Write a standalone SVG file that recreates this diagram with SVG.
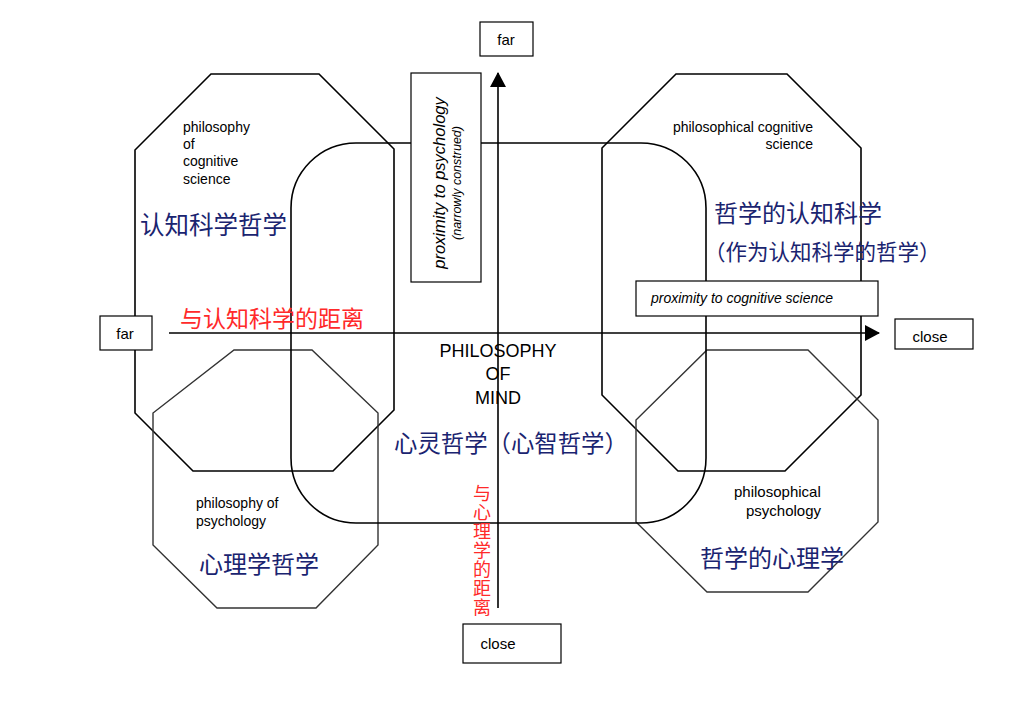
<svg xmlns="http://www.w3.org/2000/svg" width="1027" height="718" viewBox="0 0 1027 718">
<style>
.s{fill:none;stroke:#000;stroke-width:1.6}
.g{fill:none;stroke:#333;stroke-width:1.4}
.b{fill:#fff;stroke:#000;stroke-width:1.2}
.t{font-family:"Liberation Sans",Arial,sans-serif;fill:#000}
.zh{font-family:"Noto Sans CJK SC",sans-serif;fill:#1a2470}
.r{font-family:"Noto Sans CJK SC",sans-serif;fill:#ff2a2a}
</style>
<defs><marker id="ah" markerWidth="16" markerHeight="16" refX="14" refY="8" orient="auto" markerUnits="userSpaceOnUse"><path d="M0,0 L15,8 L0,16 Z" fill="#000"/></marker></defs>
<rect width="1027" height="718" fill="#fff"/>
<g id="connectors">
<line x1="169" y1="333" x2="879" y2="333" stroke="#000" stroke-width="1.6" marker-end="url(#ah)"/>
<line x1="498" y1="608" x2="498" y2="73" stroke="#000" stroke-width="1.6" marker-end="url(#ah)"/>
</g>
<g id="pcs">
<polygon class="s" points="211,74 319,74 394,149 394,410 333,471 193,471 135,413 135,150"/>
<g class="t" font-size="14"><text x="183" y="132">philosophy</text><text x="183" y="149">of</text><text x="183" y="166">cognitive</text><text x="183" y="184">science</text></g>
<text class="zh" x="140" y="234" font-size="24.5">认知科学哲学</text>
</g>
<g id="pcogs">
<polygon class="s" points="676,74 787,74 861,148 861,395 785,471 678,471 602,395 602,148"/>
<g class="t" font-size="14" text-anchor="end"><text x="813" y="132">philosophical cognitive</text><text x="813" y="149">science</text></g>
<text class="zh" x="714" y="222" font-size="24">哲学的认知科学</text>
<text class="zh" x="704" y="260" font-size="21.5">（作为认知科学的哲学）</text>
</g>
<g id="pop">
<polygon class="g" points="234,350 312,350 378,413 378,545 316,608 217,608 153,545 153,413"/>
<g class="t" font-size="14"><text x="196" y="508">philosophy of</text><text x="196" y="526">psychology</text></g>
<text class="zh" x="199" y="573" font-size="24">心理学哲学</text>
</g>
<g id="pp">
<polygon class="g" points="707,350 808,350 878,420 878,522 808,592 707,592 636,522 636,420"/>
<g class="t" font-size="15"><text x="734" y="497">philosophical</text><text x="746" y="516">psychology</text></g>
<text class="zh" x="700" y="567" font-size="24">哲学的心理学</text>
</g>
<g id="pom">
<rect class="s" x="291" y="143" width="415" height="380" rx="65"/>
<g class="t" font-size="18" text-anchor="middle"><text x="498" y="357">PHILOSOPHY</text><text x="498" y="380">OF</text><text x="498" y="404">MIND</text></g>
<text class="zh" x="394" y="452" font-size="23.4">心灵哲学（心智哲学）</text>
</g>
<g id="labels">
<rect class="b" x="411" y="73" width="70" height="209"/>
<text class="t" transform="translate(445,183) rotate(-90)" text-anchor="middle" font-size="16.5" font-style="italic">proximity to psychology</text>
<text class="t" transform="translate(461,183) rotate(-90)" text-anchor="middle" font-size="12.5" font-style="italic">(narrowly construed)</text>
<rect class="b" x="636" y="281" width="242" height="35"/>
<text class="t" x="651" y="303" font-size="14" font-style="italic">proximity to cognitive science</text>
<text class="r" x="180" y="327" font-size="23">与认知科学的距离</text>
<g class="r" font-size="18" text-anchor="middle">
<text x="482" y="500">与</text><text x="482" y="519">心</text><text x="482" y="538">理</text><text x="482" y="557">学</text><text x="482" y="576">的</text><text x="482" y="595">距</text><text x="482" y="614">离</text>
</g>
</g>
<g id="ends" class="t" font-size="15" text-anchor="middle">
<rect class="b" x="480" y="22" width="53" height="34"/><text x="506" y="45">far</text>
<rect class="b" x="100" y="316" width="52" height="34"/><text x="125" y="339">far</text>
<rect class="b" x="895" y="319" width="78" height="30"/><text x="930" y="342">close</text>
<rect class="b" x="463" y="624" width="98" height="39"/><text x="498" y="649">close</text>
</g>
</svg>
